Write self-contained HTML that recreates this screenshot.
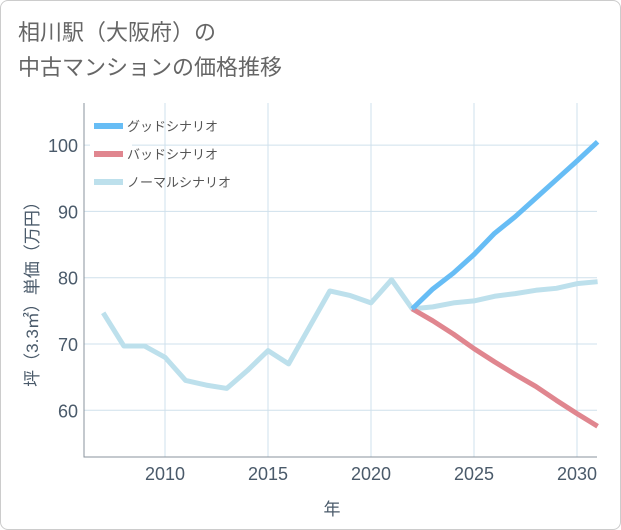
<!DOCTYPE html>
<html><head><meta charset="utf-8"><style>
body{margin:0;background:#fff;font-family:"Liberation Sans","Noto Sans CJK JP",sans-serif;}
#frame{position:absolute;left:0;top:0;width:619px;height:528px;border:1px solid #ccc;border-radius:8px;}
#title{position:absolute;left:18px;top:15px;font-size:22px;line-height:35px;color:#666;}
</style></head><body>
<div id="frame"></div>
<div id="title">相川駅（大阪府）の<br>中古マンションの価格推移</div>
<svg id="chart" width="621" height="530" style="position:absolute;left:0;top:0"></svg>
<script>
const years=[2007,2008,2009,2010,2011,2012,2013,2014,2015,2016,2017,2018,2019,2020,2021,2022,2023,2024,2025,2026,2027,2028,2029,2030,2031];
const normal=[74.7,69.7,69.7,68,64.5,63.8,63.3,66,69,67,72.5,78,77.3,76.2,79.7,75.3,75.6,76.2,76.5,77.2,77.6,78.1,78.4,79.1,79.4];
const futYears=[2022,2023,2024,2025,2026,2027,2028,2029,2030,2031];
const good=[75.3,78.3,80.7,83.5,86.7,89.2,92,94.8,97.6,100.5];
const bad=[75.3,73.5,71.5,69.3,67.3,65.4,63.6,61.5,59.5,57.6];
const xTicks=[2010,2015,2020,2025,2030];
const yTicks=[60,70,80,90,100];
const L=84,R=597,T=103,B=457;
const x=v=>165+(v-2010)*20.6;
const y=v=>344-(v-70)*6.63;
const svg=document.getElementById('chart');
const NS='http://www.w3.org/2000/svg';
function mk(t,a,p){const e=document.createElementNS(NS,t);for(const k in a)e.setAttribute(k,a[k]);(p||svg).appendChild(e);return e;}
xTicks.forEach(t=>{const l=mk('line',{x1:x(t),x2:x(t),y1:T,y2:B,stroke:'#cfe0ec','stroke-width':1});

const tx=mk('text',{x:x(t),y:480,'text-anchor':'middle','font-size':18,fill:'#4a5a6a'});tx.textContent=t;
});
yTicks.forEach(t=>{const l=mk('line',{x1:L,x2:R,y1:y(t),y2:y(t),stroke:'#cfe0ec','stroke-width':1});

const tx=mk('text',{x:78,y:y(t)+7,'text-anchor':'end','font-size':18,fill:'#4a5a6a'});tx.textContent=t;
});
const ax=mk('path',{d:`M${L} ${T}V${B}H${R}`,fill:'none',stroke:'#8a939c','stroke-width':1});

function line(xs,ys,c,n){const p=mk('polyline',{points:xs.map((v,i)=>x(v)+','+y(ys[i])).join(' '),fill:'none',stroke:c,'stroke-width':5,'stroke-linejoin':'round'});
}
line(years,normal,'#bde0ec','normal-line');
line(futYears,bad,'#e0868f','bad-line');
line(futYears,good,'#67bdf5','good-line');
const lg=mk('rect',{x:90,y:112,width:42,height:86,fill:'#fff'});

[['グッドシナリオ','#67bdf5'],['バッドシナリオ','#e0868f'],['ノーマルシナリオ','#bde0ec']].forEach((e,i)=>{
const yy=126+i*28;
const s=mk('line',{x1:94,x2:123,y1:yy,y2:yy,stroke:e[1],'stroke-width':6});

const t=mk('text',{x:127,y:yy+5,'font-size':13,fill:'#555'});t.textContent=e[0];
});
const xt=mk('text',{x:332,y:515,'text-anchor':'middle','font-size':17,fill:'#4a5a6a'});xt.textContent='年';

const yt=mk('text',{x:0,y:0,'text-anchor':'middle','font-size':17,fill:'#4a5a6a',transform:'translate(38,290) rotate(-90)'});yt.textContent='坪（3.3㎡）単価（万円）';

</script>
</body></html>
